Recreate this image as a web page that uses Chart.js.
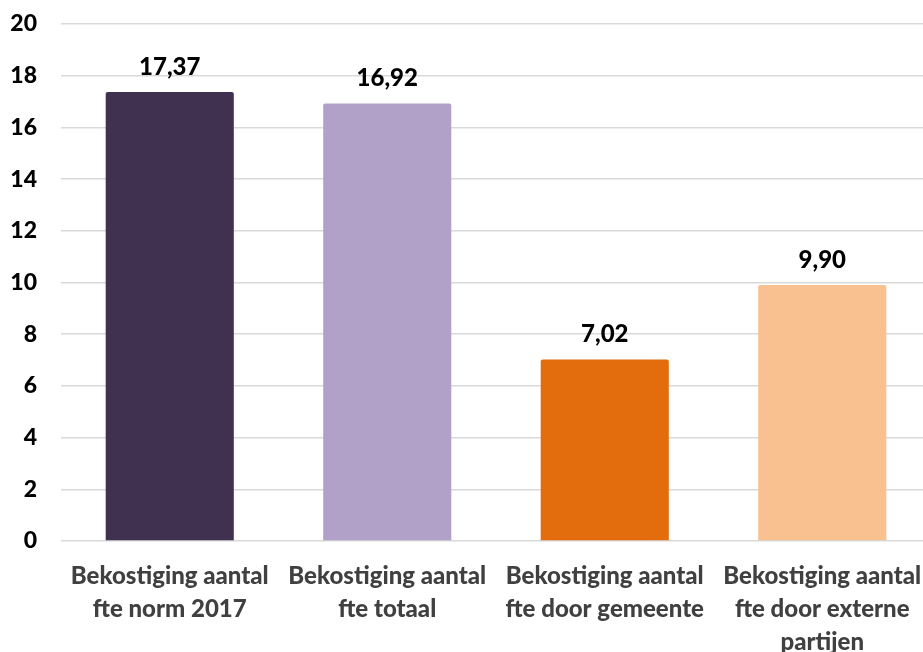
<!DOCTYPE html>
<html>
<head>
<meta charset="utf-8">
<script src="https://cdn.jsdelivr.net/npm/chart.js@4.4.1/dist/chart.umd.min.js"></script>
<style>
  html, body { margin: 0; padding: 0; background: #ffffff; overflow: hidden; width: 923px; height: 652px; }
  #wrap { width: 931px; height: 652px; position: relative; }
</style>
</head>
<body>
<div id="wrap"><canvas id="c"></canvas></div>
<script>
const categories = [
  ["Bekostiging aantal", "fte norm 2017"],
  ["Bekostiging aantal", "fte totaal"],
  ["Bekostiging aantal", "fte door gemeente"],
  ["Bekostiging aantal", "fte door externe", "partijen"]
];
const values = [17.37, 16.92, 7.02, 9.90];
const barColors = ["#413150", "#b1a0c7", "#e36c0d", "#f9c090"];
const yTicks = [0, 2, 4, 6, 8, 10, 12, 14, 16, 18, 20];

const FONT = "Lato, 'Open Sans', sans-serif";

const valueLabels = {
  id: 'valueLabels',
  afterDatasetsDraw(chart) {
    const ctx = chart.ctx;
    const meta = chart.getDatasetMeta(0);
    ctx.save();
    ctx.font = "900 24px " + FONT;
    ctx.fillStyle = "#000000";
    ctx.textAlign = "center";
    ctx.textBaseline = "middle";
    meta.data.forEach((bar, i) => {
      const txt = values[i].toFixed(2).replace('.', ',');
      ctx.fillText(txt, bar.x, bar.y - 25);
    });
    ctx.restore();
  }
};

new Chart(document.getElementById('c'), {
  type: 'bar',
  data: {
    labels: categories,
    datasets: [{
      data: values,
      backgroundColor: barColors,
      borderRadius: 2,
      barPercentage: 0.589,
      categoryPercentage: 1.0
    }]
  },
  options: {
    responsive: true,
    maintainAspectRatio: false,
    animation: false,
    layout: { padding: { left: 0, right: 0, top: 24, bottom: 0 } },
    plugins: {
      legend: { display: false },
      tooltip: { enabled: false }
    },
    scales: {
      x: {
        grid: { display: false, drawTicks: false },
        border: { display: false },
        ticks: {
          color: "#404040",
          font: { family: FONT, size: 24, weight: 900, lineHeight: 1.375 },
          padding: 19,
          maxRotation: 0,
          autoSkip: false
        },
        afterFit(scale) { scale.height = 111; scale.paddingLeft = 0; scale.paddingRight = 0; }
      },
      y: {
        min: 0,
        max: 20,
        afterBuildTicks(scale) { scale.ticks = yTicks.map(v => ({ value: v })); },
        grid: { color: "#d9d9d9", lineWidth: 1.5, drawTicks: false },
        border: { display: false },
        ticks: {
          color: "#000000",
          font: { family: FONT, size: 23, weight: 900 },
          padding: 24
        },
        afterFit(scale) { scale.width = 61; scale.paddingTop = 0; scale.paddingBottom = 0; }
      }
    }
  },
  plugins: [valueLabels]
});
</script>
</body>
</html>
